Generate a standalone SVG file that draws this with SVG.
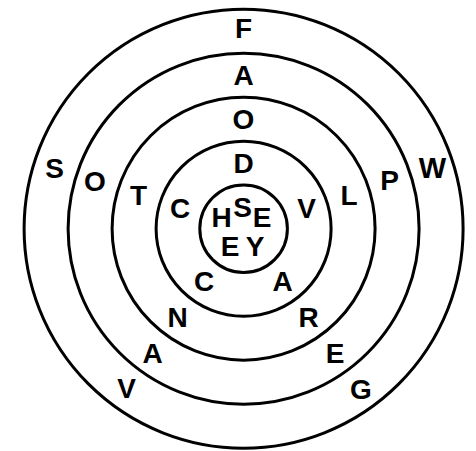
<svg xmlns="http://www.w3.org/2000/svg" width="476" height="451" viewBox="0 0 476 451">
<style>
.ring{fill:none;stroke:#000;stroke-width:3}
text{font-family:"Liberation Sans",Arial,Helvetica,sans-serif;font-weight:bold;font-size:28px;fill:#000;text-anchor:middle}
</style>
<rect width="476" height="451" fill="#fff"/>
<g id="rings">
<circle class="ring" cx="243.6" cy="228.7" r="219.5"/>
<circle class="ring" cx="243.6" cy="228.7" r="175.5"/>
<circle class="ring" cx="243.6" cy="228.7" r="131.5"/>
<circle class="ring" cx="243.6" cy="228.7" r="87.5"/>
<circle class="ring" cx="243.6" cy="228.7" r="43.8"/>
</g>
<g id="ring1-letters">
<text x="243.5" y="38">F</text>
<text x="54.5" y="178">S</text>
<text x="432.5" y="178" style="font-size:29px">W</text>
<text x="126.5" y="398">V</text>
<text x="361" y="399">G</text>
</g>
<g id="ring2-letters">
<text x="243.5" y="85">A</text>
<text x="95" y="191">O</text>
<text x="389.5" y="190">P</text>
<text x="152.5" y="363">A</text>
<text x="335" y="363">E</text>
</g>
<g id="ring3-letters">
<text x="243.5" y="128.5">O</text>
<text x="138.5" y="205">T</text>
<text x="349" y="205">L</text>
<text x="177.5" y="326.5">N</text>
<text x="308.5" y="326.5">R</text>
</g>
<g id="ring4-letters">
<text x="243.5" y="172.5">D</text>
<text x="180" y="218">C</text>
<text x="306.5" y="218">V</text>
<text x="204" y="291">C</text>
<text x="282.5" y="291">A</text>
</g>
<g id="center-letters">
<text x="242.5" y="216.5">S</text>
<text x="221.5" y="227">H</text>
<text x="262" y="227">E</text>
<text x="230" y="256">E</text>
<text x="255" y="256">Y</text>
</g>
</svg>
